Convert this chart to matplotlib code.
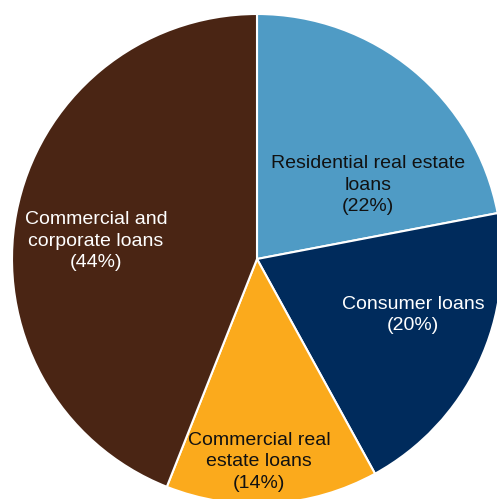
import numpy as np
import matplotlib.pyplot as plt

# Dados do gráfico
categorias = ['Residential real estate\nloans', 'Consumer loans',
              'Commercial real\nestate loans', 'Commercial and\ncorporate loans']
percentuais = [22, 20, 14, 44]

cores = ['#4F9BC5', '#002B5C', '#FBAA1C', '#4A2514']
cores_texto = ['#111111', 'white', '#111111', 'white']
# posição dos rótulos (pixels, relativos ao centro)
pos_rotulos = [(111, 74), (156, -56), (2, -203), (-161, 18)]

plt.rcParams['font.family'] = ['Liberation Sans', 'DejaVu Sans']

fig = plt.figure(figsize=(4.97, 4.99), dpi=100)
ax = fig.add_axes([0, 0, 1, 1])

centro = (257, 240)
raio = 245
ax.pie(percentuais, colors=cores, startangle=90, counterclock=False,
       radius=raio, center=centro,
       wedgeprops=dict(edgecolor='white', linewidth=1.5))

for cat, p, cor, (dx, dy) in zip(categorias, percentuais, cores_texto, pos_rotulos):
    ax.text(centro[0] + dx, centro[1] + dy, f'{cat}\n({p}%)', color=cor,
            ha='center', va='center', fontsize=14, linespacing=1.35)

ax.set_xlim(0, 497)
ax.set_ylim(0, 499)
ax.set_aspect('equal')
ax.axis('off')

plt.savefig('out.png', dpi=100)
